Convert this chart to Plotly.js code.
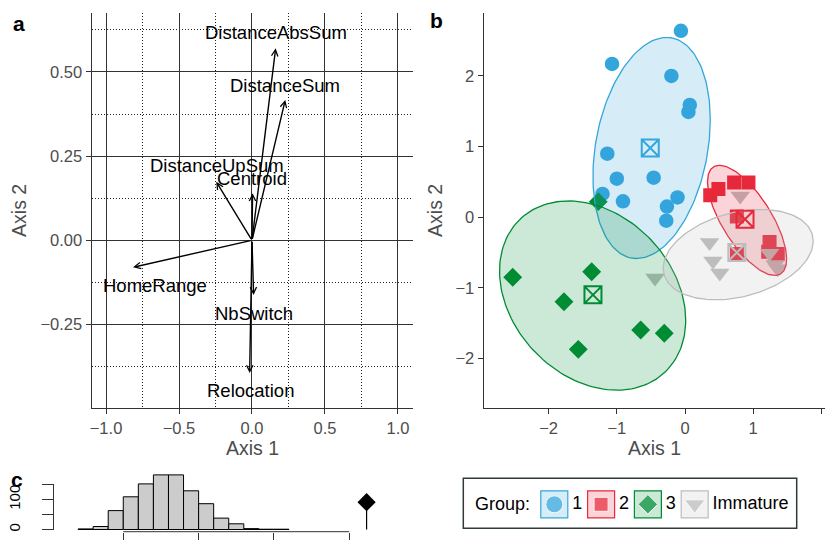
<!DOCTYPE html>
<html><head><meta charset="utf-8">
<script src="https://cdn.plot.ly/plotly-3.0.1.min.js"></script>
<style>html,body{margin:0;padding:0;background:#fff}#chart{width:825px;height:540px}</style>
</head><body><div id="chart"></div>
<script>
// ---------- Panel a: variable loadings ----------
const varNames = ['DistanceAbsSum','DistanceSum','DistanceUpSum','Centroid','HomeRange','NbSwitch','Relocation'];
const loadX = [0.162, 0.228, -0.245, 0.004, -0.815, 0.011, -0.016];
const loadY = [0.570, 0.417, 0.174, 0.140, -0.080, -0.162, -0.394];
const labelX = [0.162, 0.229, -0.240, 0.000, -0.662, 0.011, -0.010];
const labelY = [0.618, 0.461, 0.222, 0.185, -0.134, -0.216, -0.446];

// ---------- Panel b: individual scores ----------
const groups = ['1','2','3','Immature'];
const g1X = [-0.06, -1.07, -0.20, 0.07, 0.05, -1.14, -1.00, -0.46, -1.21, -0.91, -0.11, -0.265, -0.275];
const g1Y = [2.64, 2.17, 2.00, 1.59, 1.49, 0.90, 0.545, 0.56, 0.33, 0.225, 0.28, 0.15, -0.05];
const g2X = [0.37, 0.49, 0.72, 0.93, 0.76, 1.24, 1.22, 0.76, 1.36];
const g2Y = [0.31, 0.40, 0.49, 0.49, 0.01, -0.35, -0.49, -0.52, -0.52];
const g3X = [-2.527, -1.369, -1.775, -1.565, -0.650, -0.304, -1.272];
const g3Y = [-0.851, -0.772, -1.197, -1.871, -1.598, -1.644, 0.22];
const immX = [0.81, 0.36, 0.41, 0.51, 1.24, 1.32, 1.36, -0.44];
const immY = [0.30, -0.36, -0.62, -0.79, -0.51, -0.67, -0.73, -0.86];
const centroidX = [-0.51, 0.88, -1.35, 0.76];
const centroidY = [0.98, -0.03, -1.10, -0.50];
// ellipse parameters: centre, half-width, half-height, correlation
const ellCx = [-0.49, 0.91, -1.355, 0.78];
const ellCy = [0.98, -0.045, -1.11, -0.53];
const ellSx = [0.86, 0.58, 1.365, 1.10];
const ellSy = [1.565, 0.78, 1.34, 0.64];
const ellR  = [0.256, -0.70, -0.26, 0.30];

// ---------- Panel c: randomisation test ----------
const simBinCenters = [0.25,0.27,0.29,0.31,0.33,0.35,0.37,0.39,0.41,0.43,0.45,0.47,0.49,0.51];
const simCounts     = [2, 10, 63, 109, 152, 182, 182, 129, 86, 38, 19, 3, 1, 1];
const observed = 0.623;
const histXTicks = [0.3, 0.4, 0.5, 0.6];
const histYTicks = [0, 50, 100, 150];
const histYLabels = ['0', '', '100', ''];

// ---------- styles ----------
const FONT = 'Liberation Sans, Arial, Helvetica, sans-serif';
const groupColors = ['#34A6DC', '#E8293B', '#008C34', '#BDBDBD'];
const groupFills = ['rgba(52,166,220,0.2)', 'rgba(232,41,59,0.2)', 'rgba(0,140,52,0.2)', 'rgba(189,189,189,0.2)'];
const style = {
  symbols: ['circle', 'square', 'diamond', 'triangle-down'],
  pointSizes: [14.5, 14, 14.5, 17],
  keySizes: [17, 14, 15, 18]
};
const axisCol = '#333333', tickCol = '#4D4D4D';

const gX = [g1X, g2X, g3X, immX], gY = [g1Y, g2Y, g3Y, immY];
const traces = [];

// points
for (let i = 0; i < 4; i++) {
  traces.push({type:'scatter', mode:'markers', x:gX[i], y:gY[i], xaxis:'x2', yaxis:'y2',
    marker:{symbol:style.symbols[i], size:style.pointSizes[i], color:groupColors[i], line:{width:0}},
    hoverinfo:'skip'});
}
// ellipses (drawn over points)
for (let i = 0; i < 4; i++) {
  const xs = [], ys = [];
  const n = 160;
  for (let k = 0; k <= n; k++) {
    const t = 2 * Math.PI * k / n;
    xs.push(ellCx[i] + ellSx[i] * Math.cos(t));
    ys.push(ellCy[i] + ellSy[i] * (ellR[i] * Math.cos(t) + Math.sqrt(1 - ellR[i] * ellR[i]) * Math.sin(t)));
  }
  traces.push({type:'scatter', mode:'lines', x:xs, y:ys, xaxis:'x2', yaxis:'y2', fill:'toself',
    fillcolor:groupFills[i], line:{color:groupColors[i], width:1.3}, hoverinfo:'skip'});
}
// centroids
traces.push({type:'scatter', mode:'markers', x:centroidX, y:centroidY, xaxis:'x2', yaxis:'y2',
  marker:{symbol:'square-x-open', size:17, color:groupColors, line:{width:2}}, hoverinfo:'skip'});

// histogram
traces.push({type:'bar', x:simBinCenters, y:simCounts, xaxis:'x3', yaxis:'y3',
  marker:{color:'#CCCCCC', line:{color:'#000000', width:1}}, hoverinfo:'skip'});
const obsHeight = Math.max(...simCounts) / 2;
traces.push({type:'scatter', mode:'lines', x:[observed, observed], y:[0, obsHeight], xaxis:'x3', yaxis:'y3',
  line:{color:'#000', width:1.2}, hoverinfo:'skip'});
traces.push({type:'scatter', mode:'markers', x:[observed], y:[obsHeight], xaxis:'x3', yaxis:'y3',
  marker:{symbol:'diamond', size:14, color:'#000'}, hoverinfo:'skip'});

// legend keys (boxes + symbols) on a hidden axis
traces.push({type:'scatter', mode:'markers+text', x:groups, y:groups.map(() => 0), xaxis:'x4', yaxis:'y4',
  text:groups, textposition:'middle right', textfont:{family:FONT, size:18, color:'#000'}, cliponaxis:false,
  marker:{symbol:'square', size:27, color:groupFills, line:{color:groupColors, width:1.2}}, hoverinfo:'skip'});
traces.push({type:'scatter', mode:'markers', x:groups, y:groups.map(() => 0), xaxis:'x4', yaxis:'y4', cliponaxis:false,
  marker:{symbol:style.symbols, size:style.keySizes, color:groupColors}, hoverinfo:'skip'});

// annotations
const annotations = [];
for (let i = 0; i < varNames.length; i++) {
  annotations.push({xref:'x', yref:'y', axref:'x', ayref:'y', x:loadX[i], y:loadY[i], ax:0, ay:0,
    text:'', showarrow:true, arrowhead:5, arrowsize:0.9, arrowwidth:1.4, arrowcolor:'#000'});
  annotations.push({xref:'x', yref:'y', x:labelX[i], y:labelY[i], text:varNames[i], showarrow:false,
    xanchor:'center', yanchor:'middle', font:{family:FONT, size:18.5, color:'#000'}});
}
const panelLab = (t, x, y) => ({xref:'paper', yref:'paper', x:x/825, y:1 - y/540, text:'<b>' + t + '</b>',
  showarrow:false, xanchor:'center', yanchor:'middle', font:{family:FONT, size:21, color:'#000'}});
annotations.push(panelLab('a', 18.5, 23));
annotations.push(panelLab('b', 436.5, 21));
annotations.push(panelLab('c', 16.5, 479));
annotations.push({xref:'paper', yref:'paper', x:473/825, y:1 - 504.3/540, text:'Group:', showarrow:false,
  xanchor:'left', yanchor:'middle', font:{family:FONT, size:18, color:'#000'}});

const shapes = [
  // legend frame
  {type:'rect', xref:'paper', yref:'paper', x0:463.3/825, x1:796.7/825, y0:1 - 528.3/540, y1:1 - 478.3/540,
   line:{color:'#2F3B3B', width:1.5}, fillcolor:'rgba(0,0,0,0)', layer:'below'},
  // histogram axis lines (span first to last tick, as in base graphics)
  {type:'line', xref:'x3', yref:'y3 domain', x0:histXTicks[0], x1:histXTicks[histXTicks.length-1], y0:0, y1:0,
   line:{color:axisCol, width:1}},
  {type:'line', xref:'paper', yref:'y3', x0:53.5/825, x1:53.5/825, y0:histYTicks[0], y1:histYTicks[histYTicks.length-1],
   line:{color:axisCol, width:1}}
];

const baseAxis = {showline:true, linecolor:axisCol, linewidth:1.5, ticks:'outside', ticklen:5, tickwidth:1,
  tickcolor:axisCol, tickfont:{family:FONT, size:16.5, color:tickCol}, zeroline:false, showgrid:false};
const titleFont = {family:FONT, size:19.5, color:tickCol};
const gridOpts = {showgrid:true, gridcolor:'#333333', gridwidth:1, zeroline:true, zerolinecolor:'#333333', zerolinewidth:1};
const dotGrid = {showgrid:true, griddash:'1px,2px', gridcolor:'#222222', gridwidth:1};

const layout = {
  width:825, height:540, margin:{l:0, r:0, t:0, b:0}, paper_bgcolor:'#fff', plot_bgcolor:'rgba(0,0,0,0)',
  showlegend:false, font:{family:FONT}, bargap:0,
  xaxis: Object.assign({}, baseAxis, gridOpts, {domain:[92/825, 413/825], range:[-1.096, 1.103], anchor:'y',
    dtick:0.5, tick0:0, tickformat:'.1f',
    minor:Object.assign({dtick:0.25, tick0:0}, dotGrid),
    title:{text:'Axis 1', font:titleFont, standoff:4}}),
  yaxis: Object.assign({}, baseAxis, gridOpts, {domain:[132.3/540, 527/540], range:[-0.497, 0.675], anchor:'x',
    dtick:0.25, tick0:0, tickformat:'.2f',
    minor:Object.assign({dtick:0.125, tick0:0}, dotGrid),
    title:{text:'Axis 2', font:titleFont, standoff:8}}),
  xaxis2: Object.assign({}, baseAxis, {domain:[484/825, 1], range:[-2.948, 2.053], anchor:'y2', dtick:1, tick0:0,
    title:{text:'Axis 1', font:titleFont, standoff:4}}),
  yaxis2: Object.assign({}, baseAxis, {domain:[132.3/540, 527/540], range:[-2.698, 2.892], anchor:'x2', dtick:1, tick0:0,
    title:{text:'Axis 2', font:titleFont, standoff:7}}),
  xaxis3: {domain:[60/825, 380/825], range:[0.216, 0.6408], anchor:'y3', showline:false, showgrid:false, zeroline:false,
    tickvals:histXTicks, ticks:'outside', ticklen:10, tickcolor:axisCol, showticklabels:false},
  yaxis3: {domain:[8.3/540, 70/540], range:[-7.3, 198.3], anchor:'free', position:53.5/825, side:'left',
    showline:false, showgrid:false, zeroline:false, tickvals:histYTicks, ticktext:histYLabels, ticks:'outside',
    ticklen:12, tickcolor:axisCol, tickangle:-90, ticklabelstandoff:16, tickfont:{family:FONT, size:15, color:'#000'}},
  xaxis4: {domain:[540/825, 710/825], range:[-0.3056, 3.3269], type:'category', anchor:'y4', visible:false},
  yaxis4: {domain:[0.0311, 0.1011], range:[-1, 1], anchor:'x4', visible:false},
  annotations: annotations,
  shapes: shapes
};

Plotly.newPlot('chart', traces, layout, {staticPlot:true, displayModeBar:false});
</script>
</body></html>
